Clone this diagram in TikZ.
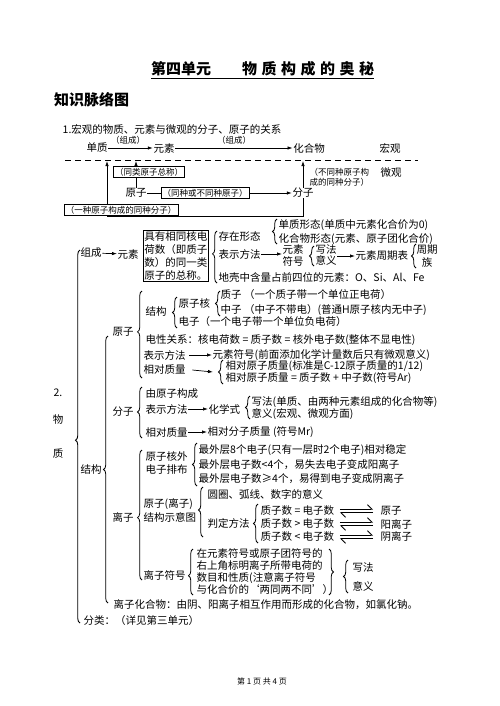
\documentclass[tikz,border=0pt]{standalone}
\usepackage{fontspec}
\setmainfont{Noto Sans CJK SC}
\usetikzlibrary{arrows.meta,decorations.pathreplacing,calc}
\newcommand\fs{\fontsize{10.5}{12.5}\selectfont}
\newcommand\fsm{\fontsize{8.5}{10}\selectfont}
\tikzset{
  t/.style={anchor=west, inner sep=0.5pt, font=\fs},
  tm/.style={anchor=west, inner sep=0.5pt, font=\fs, align=left},
  tc/.style={anchor=center, inner sep=0.5pt, font=\fs},
  sm/.style={inner sep=0.5pt, font=\fsm},
  lbl/.style={sm, draw, fill=white, line width=0.4pt, inner sep=1.5pt},
  arr/.style={-{Latex[length=5pt,width=3.4pt]}, line width=0.7pt},
  brc/.style={decorate, decoration={brace, amplitude=4.5pt, aspect=#1}, line width=0.8pt},
  brc/.default=0.5,
  eqa/.style={line width=0.9pt, -{Straight Barb[left,length=4.5pt]}},
}
\begin{document}
\begin{tikzpicture}[x=1pt,y=-1pt]
\fill[white] (0,0) rectangle (500,706);
\useasboundingbox (0,0) rectangle (500,706);
% title
\node[anchor=west, inner sep=0pt, font=\fontsize{15}{18}\selectfont\bfseries] (ttl) at (151,69) {第四单元\hspace{31pt}物\hspace{4.5pt}质\hspace{4.5pt}构\hspace{4.5pt}成\hspace{4.5pt}的\hspace{4.5pt}奥\hspace{4.5pt}秘};
\coordinate (ul) at (0,78);
\draw[line width=0.8pt] (ttl.west |- ul) -- (ttl.east |- ul);
\node[anchor=west, inner sep=0pt, font=\fontsize{15}{17}\selectfont\bfseries] (zsmlt) at (54,100) {知识脉络图};
\node[t] (s1) at (62,129) {1.宏观的物质、元素与微观的分子、原子的关系};
% top diagram
\node[tc] (dz) at (97,148) {单质};
\node[tc] (ys) at (164,148) {元素};
\node[tc] (hhw) at (309,148) {化合物};
\node[tc] (hg) at (390,148) {宏观};
\node[sm] (zc1) at (128,140) {（组成）};
\node[sm] (zc2) at (234,140) {（组成）};
\draw[arr] (dz) -- (ys);
\draw[arr] (ys) -- (hhw);
\coordinate (dl1) at (65,160);
\coordinate (dl2) at (418,160);
\draw[line width=0.9pt, dash pattern=on 6pt off 4pt] (dl1) -- (dl2);
\coordinate (dtip) at (0,161);
\node[tc] (wg) at (391,173) {微观};
\node[tc] (yz) at (136,193) {原子};
\node[tc] (fz) at (303,193) {分子};
\draw[arr] (yz) -- (fz);
\draw[arr] (fz) -- (fz |- dtip);
\draw[arr] (yz) -- (yz |- dtip);
\coordinate (bl) at (303,216);
\coordinate (br) at (107,216);
\draw[arr] (fz.south) -- (bl) -- (br) -- (br |- dtip);
\node[lbl] (tl) at (149,172) {（同类原子总称）};
\node[lbl] (tz) at (205,193) {（同种或不同种原子）};
\node[sm, anchor=west, align=left] (bt) at (309,177) {（不同种原子构\\成的同种分子）};
\node[lbl] (yzfz) at (121,210) {（一种原子构成的同种分子）};
% main section
\node[tc] (n2) at (58,393) {2.};
\node[tc] (nwu) at (58,420) {物};
\node[tc] (nzhi) at (58,454) {质};
\draw[brc=0.49, line width=0.9pt] (80,623) -- (80,250);
\node[t] (zc) at (80,253) {组成};
\node[t] (ys2) at (117,254) {元素};
\draw[arr] (zc) -- (ys2);
\node[tm, draw, line width=0.5pt, inner sep=1pt, font={\fontsize{10.5}{13}\selectfont}] (box) at (143,256) {具有相同核电\\荷数（即质子\\数）的同一类\\原子的总称。};
\draw[brc=0.56] (217,283) -- (217,231);
\node[t] (czxt) at (218,237) {存在形态};
\node[t] (bsff) at (218,254) {表示方法};
\node[t] (dq) at (218,278) {地壳中含量占前四位的元素：O、Si、Al、Fe};
\draw[brc] (277,244) -- (277,219);
\node[t] (dzxt) at (278,225) {单质形态(单质中元素化合价为0)};
\node[t] (hhxt) at (278,239) {化合物形态(元素、原子团化合价)};
\node[tm, align=center, font={\fontsize{10.5}{12}\selectfont}] (ysfh) at (282,256) {元素\\符号};
\draw[arr] (bsff.east) -- (bsff.east -| ysfh.west);
\draw[brc] (314,266) -- (314,246);
\node[tm, font={\fontsize{10.5}{11.5}\selectfont}] (xfyy) at (315,255) {写法\\意义};
\node[t] (zqb) at (355,256) {元素周期表};
\draw[arr] (xfyy.east |- zqb) -- (zqb);
\draw[brc] (416,268) -- (416,244);
\node[tm, align=center, font={\fontsize{10.5}{13}\selectfont}] (zq) at (416,256) {周期\\族};
% structure
\node[t] (jiegou) at (80,470) {结构};
\draw[brc=0.5] (108,603) -- (108,336);
% atom
\node[t] (yuanzi) at (112,332) {原子};
\draw[brc=0.53] (142,378) -- (142,291);
\node[t] (jg2) at (145,312) {结构};
\draw[brc] (177,328) -- (177,297);
\node[t] (yzh) at (178,303) {原子核};
\draw[brc] (220,316) -- (220,291);
\node[t] (zhizi) at (220,295) {质子 （一个质子带一个单位正电荷）};
\node[t] (zhongzi) at (220,310) {中子 （中子不带电）(普通H原子核内无中子)};
\node[t] (dianzi) at (178,322) {电子（一个电子带一个单位负电荷）};
\node[t] (dxgx) at (145,340) {电性关系：核电荷数 = 质子数 = 核外电子数(整体不显电性)};
\node[t] (bsff2) at (143,355) {表示方法};
\node[t] (ysfh2) at (212,355) {元素符号(前面添加化学计量数后只有微观意义)};
\draw[arr] ([xshift=3pt]bsff2.east) -- (ysfh2.west);
\node[t] (xdzl) at (143,370) {相对质量};
\draw[brc] (223,384) -- (223,360);
\coordinate (b1tip) at (213,372);
\draw[arr] ([xshift=6pt]xdzl.east) -- (b1tip);
\node[t] (xdy1) at (225,366) {相对原子质量(标准是C-12原子质量的1/12)};
\node[t] (xdy2) at (225,378) {相对原子质量 = 质子数 + 中子数(符号Ar)};
% molecule
\node[t] (fenzi) at (112,412) {分子};
\draw[brc=0.51] (142,438) -- (142,387);
\node[t] (yyzgc) at (145,394) {由原子构成};
\node[t] (bsff3) at (145,409) {表示方法};
\node[t] (hxs) at (208,409) {化学式};
\draw[arr] (bsff3) -- (hxs);
\draw[brc] (250,419) -- (250,396);
\node[t] (xf) at (251,402) {写法(单质、由两种元素组成的化合物等)};
\node[t] (yy) at (251,414) {意义(宏观、微观方面)};
\node[t] (xdzl2) at (145,432) {相对质量};
\node[t] (xdfz) at (207,432) {相对分子质量 (符号Mr)};
\draw[arr] (xdzl2) -- (xdfz);
% ion
\node[t] (lizi) at (112,517) {离子};
\draw[brc=0.48] (142,580) -- (142,450);
\node[tm, font={\fontsize{10.5}{13}\selectfont}] (hwpb) at (145,463) {原子核外\\电子排布};
\draw[brc] (197,486) -- (197,443);
\node[t] (zw1) at (198,450) {最外层8个电子(只有一层时2个电子)相对稳定};
\node[t] (zw2) at (198,465) {最外层电子数<4个，易失去电子变成阳离子};
\node[t] (zw3) at (198,479) {最外层电子数≥4个，易得到电子变成阴离子};
\node[tm, font={\fontsize{10.5}{14}\selectfont}] (jgsyt) at (143,510) {原子(离子)\\结构示意图};
\draw[brc=0.54] (203,537) -- (203,487);
\node[t] (yqhx) at (207,494) {圆圈、弧线、数字的意义};
\node[t] (pdff) at (207,523) {判定方法};
\draw[brc] (258,543) -- (258,504);
\node[t] (zz1) at (260,511) {质子数 = 电子数};
\node[t] (zz2) at (260,524) {质子数 > 电子数};
\node[t] (zz3) at (260,537) {质子数 < 电子数};
\node[t] (r1) at (380,511) {原子};
\node[t] (r2) at (380,524) {阳离子};
\node[t] (r3) at (380,537) {阴离子};
\foreach \a/\b in {zz1/r1,zz2/r2,zz3/r3}{
  \draw[eqa] ([xshift=5pt,yshift=1.8pt]\a.east -| zz1.east) -- ([xshift=-7pt,yshift=1.8pt]\b.west);
  \draw[eqa] ([xshift=-7pt,yshift=-1.8pt]\b.west) -- ([xshift=5pt,yshift=-1.8pt]\a.east -| zz1.east);
}
\node[t] (lzfh) at (143,575) {离子符号};
\draw[brc=0.42] (193,595) -- (193,549);
\node[tm, font={\fontsize{10.5}{12}\selectfont}] (lzfht) at (196,572) {在元素符号或原子团符号的\\右上角标明离子所带电荷的\\ 数目和性质(注意离子符号\\与化合价的‘两同两不同’）};
\draw[brc] (329,549) -- (329,595);
\draw[brc] (348,593) -- (348,560);
\node[t] (xf2) at (352,567) {写法};
\node[t] (yy2) at (352,586) {意义};
\node[t] (lzhhw) at (113,605) {离子化合物：由阴、阳离子相互作用而形成的化合物，如氯化钠。};
\node[t] (fl) at (83,621) {分类：（详见第三单元）};
% footer
\node[inner sep=0pt, font=\fontsize{8}{10}\selectfont] (foot) at (262,681) {第 1 页 共 4 页};
\end{tikzpicture}
\end{document}
